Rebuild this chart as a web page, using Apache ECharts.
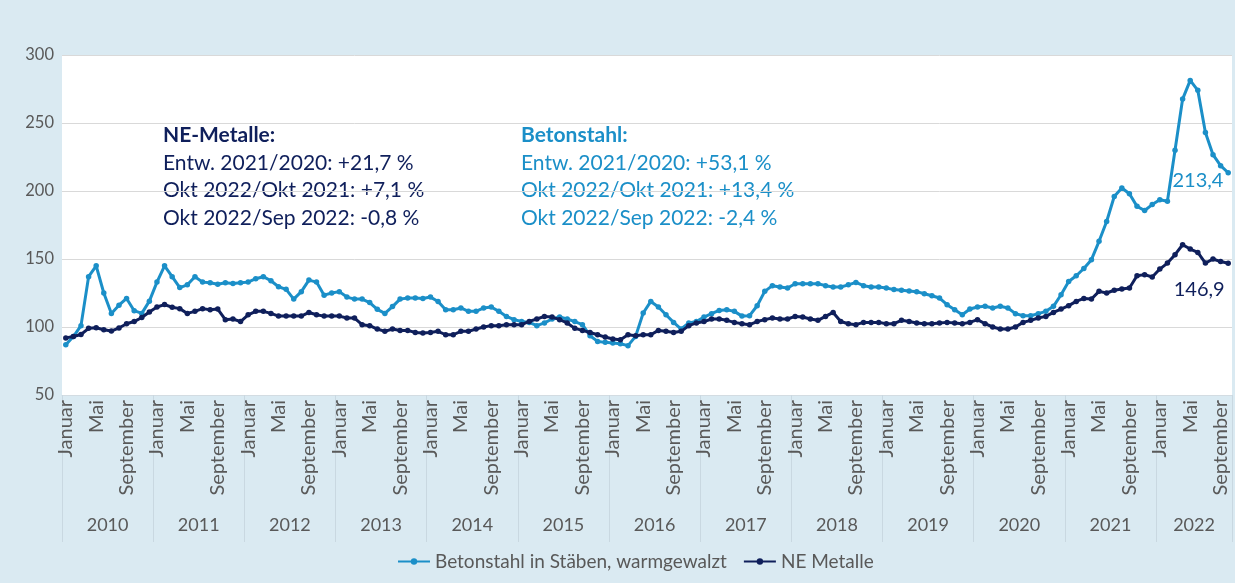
<!DOCTYPE html>
<html>
<head>
<meta charset="utf-8">
<script src="https://cdn.jsdelivr.net/npm/echarts@6/dist/echarts.min.js"></script>
<style>
  html, body { margin: 0; padding: 0; background: #DAEAF2; }
  #chart { width: 1235px; height: 583px; }
</style>
</head>
<body>
<div id="chart"></div>
<script>
// years and months shown on the category axis
var years = ['2010', '2011', '2012', '2013', '2014', '2015', '2016', '2017', '2018', '2019', '2020', '2021', '2022']
var monthNames = ['Januar', 'Februar', 'März', 'April', 'Mai', 'Juni', 'Juli', 'August', 'September', 'Oktober', 'November', 'Dezember']
var monthsIn2022 = 10

// Betonstahl in Stäben, warmgewalzt (monthly index, Jan 2010 .. Okt 2022)
var betonstahl = [
  87, 93, 101, 137, 145, 125, 110, 116, 121, 112, 110, 119,
  133, 145, 137, 129, 131, 137, 133, 132.5, 131.5, 132.5, 132, 132.5,
  133, 135.5, 137, 134, 129.6, 127.7, 120.5, 126, 134.5, 133, 123.4, 125,
  126, 122, 120.5, 120.5, 118, 113, 110, 115, 120.5, 121.3, 121.3, 121,
  122, 118.8, 112.7, 112.7, 114, 111.5, 111.5, 114, 114.7, 111.5, 107.8, 105.4,
  104.1, 103.4, 101, 103, 105.9, 107.3, 105.9, 104, 101.7, 93.6, 89.4, 88.7,
  88.2, 87.7, 86.3, 93.1, 110.3, 118.8, 114.7, 109, 103.4, 98.5, 103, 104,
  107.3, 109.8, 112.2, 112.7, 111.5, 108, 108.3, 115.6, 126.2, 130.4, 129.4, 128.7,
  131.8, 131.8, 131.8, 131.8, 130.4, 129.4, 129.4, 131, 132.8, 130.4, 129.4, 129.4,
  128.7, 127.5, 127, 126.5, 126, 124.5, 123, 121.3, 116.4, 112.7, 109, 113.2,
  114.7, 115.2, 114, 115.2, 114, 109.8, 108.3, 108.3, 109.8, 111.5, 115.2, 123.7,
  133.5, 137.7, 143, 149.5, 163, 177.6, 196, 202.2, 198, 188.7, 185.7, 190,
  193.6, 192.4, 230, 267.6, 281.3, 274, 243, 226.7, 218.6, 213.4
]

// NE Metalle
var neMetalle = [
  92, 93, 94.5, 99, 99.5, 98, 97, 99.3, 102.4, 104, 107, 111,
  114.7, 116.5, 114.5, 113.5, 110, 111.5, 113.5, 112.7, 113.2, 105.4, 105.9, 104,
  109, 111.5, 111.5, 110, 108, 108, 108, 108, 110.7, 109, 108, 108,
  108, 106.6, 106.6, 101.7, 101, 98.5, 96.8, 98.5, 97.5, 97.5, 96, 95.6,
  96, 96.8, 94.3, 94.3, 96.8, 96.8, 98.5, 100, 101, 101, 101.7, 101.7,
  101.7, 104.1, 105.9, 107.8, 107.3, 105.4, 103, 99, 97.5, 96, 94.3, 92.6,
  91.2, 90.7, 94.3, 93.6, 94.3, 94.3, 97.5, 96.8, 96, 96.8, 101, 103,
  104, 105.9, 105.9, 104.9, 103.4, 102.4, 101.7, 104, 105.4, 106.6, 105.9, 105.9,
  107.8, 107.3, 105.9, 104.9, 107.8, 110.7, 104, 102.4, 101.7, 103.4, 103.4, 103.4,
  102.4, 102.4, 104.9, 104, 103, 102.4, 102.4, 103, 103.4, 103, 102.4, 103.4,
  105.4, 102.4, 100, 98.5, 98.5, 100, 103.4, 104.9, 106.6, 107.8, 110.7, 113.2,
  115.7, 118.8, 121, 120.6, 126.2, 125, 127, 127.9, 128.7, 137.7, 138.5, 136.8,
  142.6, 147, 153.2, 160.5, 157.3, 154.8, 147, 150, 148.1, 146.9
]

var yTicks = [50, 100, 150, 200, 250, 300]

var neNotes = ['NE-Metalle:', 'Entw. 2021/2020: +21,7 %', 'Okt 2022/Okt 2021: +7,1 %', 'Okt 2022/Sep 2022: -0,8 %']
var bsNotes = ['Betonstahl:', 'Entw. 2021/2020: +53,1 %', 'Okt 2022/Okt 2021: +13,4 %', 'Okt 2022/Sep 2022: -2,4 %']

var seriesNames = ['Betonstahl in Stäben, warmgewalzt', 'NE Metalle']

// build categories "2010|Januar" ...
var categories = []
var yearMid = []
years.forEach(function (y, k) {
  var n = k === years.length - 1 ? monthsIn2022 : 12
  for (var m = 0; m < n; m++) categories.push(y + '|' + monthNames[m])
  yearMid.push(k * 12 + n / 2)
})

var BLUE = '#1B8FC8'
var NAVY = '#0F1F5B'
var FONT = 'Lato'

function fmt(v) { return String(v.toFixed(1)).replace('.', ',') }

function withLastLabel(arr, label) {
  return arr.map(function (v, i) {
    if (i < arr.length - 1) return v
    return { value: v, label: Object.assign({ show: true, formatter: function (p) { return fmt(p.value) } }, label) }
  })
}

function noteTexts(lines, left, color) {
  return lines.map(function (t, i) {
    return {
      type: 'text', left: left, top: 125 + i * 27.5,
      style: { text: t, fill: color, font: (i === 0 ? 'bold ' : '') + '21px ' + FONT }
    }
  })
}

var chart = echarts.init(document.getElementById('chart'))

var option = {
  backgroundColor: '#DAEAF2',
  animation: false,
  textStyle: { fontFamily: FONT },
  grid: {
    left: 62, right: 3, top: 55, bottom: 188,
    show: true, backgroundColor: '#ffffff', borderWidth: 0
  },
  legend: {
    bottom: 7, left: 392,
    itemWidth: 32, itemHeight: 8, itemGap: 16,
    textStyle: { color: '#595959', fontSize: 19, fontFamily: FONT },
    data: seriesNames
  },
  xAxis: [
    {
      type: 'category',
      data: categories,
      boundaryGap: true,
      axisLine: { show: true, lineStyle: { color: '#D3DCE2', width: 1 } },
      axisTick: {
        show: true, length: 147,
        interval: function (index) { return index % 12 === 0 },
        lineStyle: { color: '#C9D8E1' }
      },
      axisLabel: {
        rotate: 90, margin: 5,
        color: '#595959', fontSize: 20, fontFamily: FONT,
        interval: function (index) { return index % 12 === 0 || index % 12 === 4 || index % 12 === 8 },
        formatter: function (v) { return v.split('|')[1] }
      }
    },
    {
      type: 'value',
      position: 'bottom',
      min: 0, max: categories.length,
      offset: 113,
      axisLine: { show: false },
      axisTick: { show: false },
      splitLine: { show: false },
      axisLabel: {
        customValues: yearMid,
        color: '#595959', fontSize: 18, fontFamily: FONT,
        formatter: function (v) { return years[Math.floor(v / 12)] }
      }
    }
  ],
  yAxis: {
    type: 'value',
    min: yTicks[0], max: yTicks[yTicks.length - 1], interval: 50,
    axisLine: { show: false },
    axisTick: { show: false },
    axisLabel: { color: '#595959', fontSize: 16.5, fontFamily: FONT, margin: 8 },
    splitLine: { lineStyle: { color: '#D9D9D9', width: 1 } }
  },
  series: [
    {
      name: seriesNames[0],
      type: 'line',
      xAxisIndex: 0,
      data: withLastLabel(betonstahl, { position: 'left', distance: 2, offset: [0, 8], color: BLUE, fontSize: 20, fontFamily: FONT }),
      symbol: 'circle', symbolSize: 5.5, showAllSymbol: true,
      lineStyle: { color: BLUE, width: 3 },
      itemStyle: { color: BLUE },
      z: 3
    },
    {
      name: seriesNames[1],
      type: 'line',
      xAxisIndex: 0,
      data: withLastLabel(neMetalle, { position: 'bottom', distance: 14, offset: [-29, 0], color: NAVY, fontSize: 20, fontFamily: FONT }),
      symbol: 'circle', symbolSize: 5.5, showAllSymbol: true,
      lineStyle: { color: NAVY, width: 3 },
      itemStyle: { color: NAVY },
      z: 4
    }
  ],
  graphic: noteTexts(neNotes, 163, NAVY).concat(noteTexts(bsNotes, 521, BLUE))
}

chart.setOption(option)
</script>
</body>
</html>
